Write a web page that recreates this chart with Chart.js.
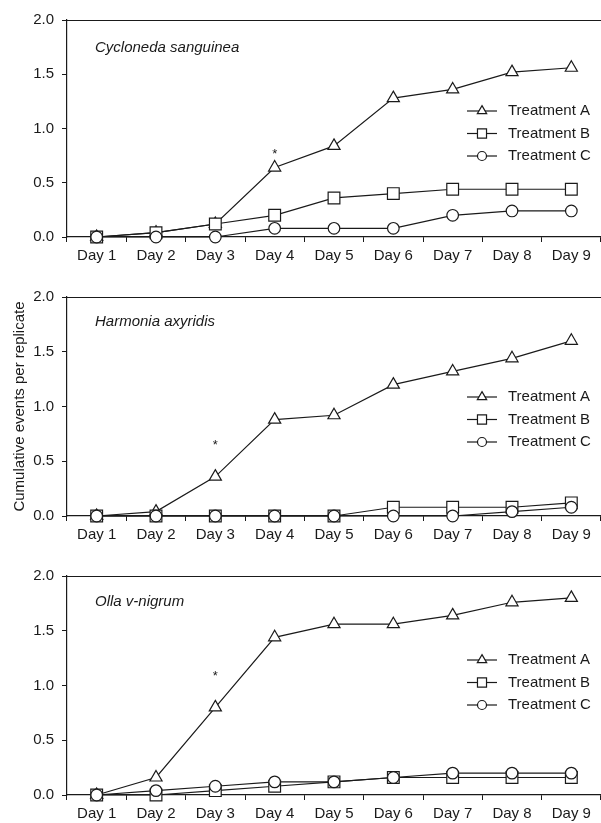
<!DOCTYPE html>
<html lang="en">
<head>
  <meta charset="UTF-8">
  <title>Cumulative events per replicate</title>
  <script src="https://cdn.jsdelivr.net/npm/chart.js@4.4.0/dist/chart.umd.min.js"></script>
  <style>
    html, body { margin: 0; padding: 0; background: #fff; overflow: hidden; }
    body { width: 601px; height: 823px; position: relative; }
    .panel { position: absolute; left: 0; width: 601px; }
  </style>
</head>
<body>
  <div class="panel" style="top:0;height:267px"><canvas id="chart1"></canvas></div>
  <div class="panel" style="top:277px;height:269px"><canvas id="chart2"></canvas></div>
  <div class="panel" style="top:556px;height:269px"><canvas id="chart3"></canvas></div>

  <script>
    // Data
    const days = ['Day 1', 'Day 2', 'Day 3', 'Day 4', 'Day 5', 'Day 6', 'Day 7', 'Day 8', 'Day 9'];
    const yTicks = [0, 0.5, 1.0, 1.5, 2.0];
    const seriesNames = ['Treatment A', 'Treatment B', 'Treatment C'];
    const species = ['Cycloneda sanguinea', 'Harmonia axyridis', 'Olla v-nigrum'];

    const cycA = [0, 0.04, 0.12, 0.64, 0.84, 1.28, 1.36, 1.52, 1.56];
    const cycB = [0, 0.04, 0.12, 0.20, 0.36, 0.40, 0.44, 0.44, 0.44];
    const cycC = [0, 0, 0, 0.08, 0.08, 0.08, 0.20, 0.24, 0.24];

    const harA = [0, 0.04, 0.36, 0.88, 0.92, 1.20, 1.32, 1.44, 1.60];
    const harB = [0, 0, 0, 0, 0, 0.08, 0.08, 0.08, 0.12];
    const harC = [0, 0, 0, 0, 0, 0, 0, 0.04, 0.08];

    const ollA = [0, 0.16, 0.80, 1.44, 1.56, 1.56, 1.64, 1.76, 1.80];
    const ollB = [0, 0, 0.04, 0.08, 0.12, 0.16, 0.16, 0.16, 0.16];
    const ollC = [0, 0.04, 0.08, 0.12, 0.12, 0.16, 0.20, 0.20, 0.20];

    // significance asterisks
    const starDay = ['Day 4', 'Day 3', 'Day 3'];
    const starValue = [0.79, 0.67, 1.11];

    const ink = '#1a1a1a';
    const family = '"Liberation Sans", Arial, Helvetica, sans-serif';
    const styles = ['triangle', 'rect', 'circle'];
    const radii = [7, 8.3, 5.8];
    const legendRadii = [5.4, 6.4, 4.5];

    // species name, legend and asterisk inside the plot
    const panelDecor = {
      id: 'panelDecor',
      afterDatasetsDraw(chart, args, opts) {
        const { ctx, chartArea: a, scales } = chart;
        ctx.save();

        // top frame line
        ctx.strokeStyle = ink;
        ctx.lineWidth = 1.2;
        ctx.beginPath();
        ctx.moveTo(a.left, Math.round(a.top) + 0.5);
        ctx.lineTo(a.right, Math.round(a.top) + 0.5);
        ctx.stroke();

        ctx.fillStyle = ink;
        ctx.textBaseline = 'middle';
        ctx.textAlign = 'left';
        ctx.font = 'italic 15px ' + family;
        ctx.fillText(opts.name, a.left + 28, a.top + opts.nameTop);

        // asterisk
        const sx = scales.x.getPixelForValue(days.indexOf(opts.starDay));
        const sy = scales.y.getPixelForValue(opts.starValue);
        ctx.font = '13px ' + family;
        ctx.textAlign = 'center';
        ctx.fillText('*', sx, sy + 3);

        // legend
        ctx.textAlign = 'left';
        ctx.font = '15px ' + family;
        chart.data.datasets.forEach((ds, i) => {
          const y = a.top + opts.legendTop + i * 22.5;
          const x0 = a.right - 134, x1 = a.right - 104;
          ctx.strokeStyle = ink;
          ctx.lineWidth = 1.2;
          ctx.beginPath();
          ctx.moveTo(x0, y);
          ctx.lineTo(x1, y);
          ctx.stroke();
          ctx.fillStyle = '#fff';
          Chart.helpers.drawPoint(ctx, {
            pointStyle: styles[i], radius: legendRadii[i], rotation: 0, borderWidth: 1.2
          }, (x0 + x1) / 2, y);
          ctx.fillStyle = ink;
          ctx.fillText(ds.label, a.right - 93, y);
        });
        ctx.restore();
      }
    };

    function makeDatasets(values) {
      return values.map((v, i) => ({
        label: seriesNames[i],
        data: v,
        borderColor: ink,
        borderWidth: 1.2,
        backgroundColor: '#fff',
        pointStyle: styles[i],
        pointRadius: radii[i],
        pointBorderWidth: 1.2,
        pointBackgroundColor: '#fff',
        pointBorderColor: ink,
        order: 3 - i,
        tension: 0,
        fill: false,
        clip: false
      }));
    }

    function makeChart(id, values, idx, nameTop, legendTop) {
      return new Chart(document.getElementById(id), {
        type: 'line',
        data: { labels: days, datasets: makeDatasets(values) },
        plugins: [panelDecor],
        options: {
          responsive: true,
          maintainAspectRatio: false,
          animation: false,
          devicePixelRatio: 1,
          layout: { autoPadding: false, padding: { top: 20, right: 0, bottom: 0, left: 0 } },
          plugins: {
            legend: { display: false },
            tooltip: { enabled: false },
            panelDecor: {
              name: species[idx],
              nameTop: nameTop,
              legendTop: legendTop,
              starDay: starDay[idx],
              starValue: starValue[idx]
            }
          },
          scales: {
            x: {
              type: 'category',
              offset: true,
              grid: { display: true, drawOnChartArea: false, offset: true, tickLength: 5, color: ink, lineWidth: 1 },
              border: { display: true, color: ink, width: 1.2 },
              ticks: { color: ink, font: { family: family, size: 15 }, padding: 5, maxRotation: 0, autoSkip: false },
              afterFit(s) { s.height = 30; s.paddingLeft = 0; s.paddingRight = 0; }
            },
            y: {
              min: 0,
              max: 2,
              afterBuildTicks(s) { s.ticks = yTicks.map(v => ({ value: v })); },
              ticks: { color: ink, font: { family: family, size: 15 }, padding: 8, callback: v => Number(v).toFixed(1) },
              grid: { display: true, drawOnChartArea: false, tickLength: 5, color: ink, lineWidth: 1 },
              border: { display: true, color: ink, width: 1.2 },
              title: {
                display: idx === 1,
                text: 'Cumulative events per replicate',
                color: ink,
                font: { family: family, size: 15 },
                padding: { top: 11, bottom: 0 }
              },
              afterFit(s) { s.width = 67; }
            }
          }
        }
      });
    }

    makeChart('chart1', [cycA, cycB, cycC], 0, 28, 91);
    makeChart('chart2', [harA, harB, harC], 1, 25, 100);
    makeChart('chart3', [ollA, ollB, ollC], 2, 26, 84);
  </script>
</body>
</html>
